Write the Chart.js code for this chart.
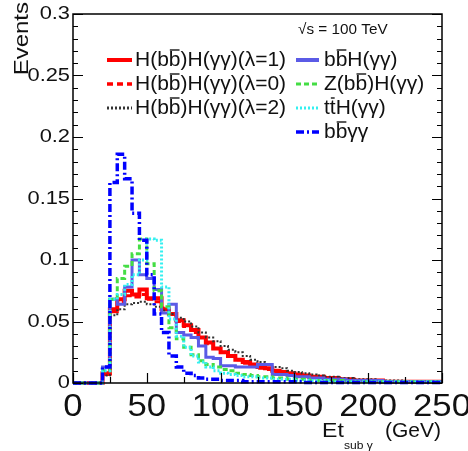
<!DOCTYPE html>
<html>
<head>
<meta charset="utf-8">
<script src="https://cdn.jsdelivr.net/npm/chart.js@4.4.1/dist/chart.umd.min.js"></script>
<style>
  html, body { margin: 0; padding: 0; background: #fff; }
  #wrap { width: 468px; height: 451px; }
</style>
</head>
<body>
<div id="wrap"><canvas id="c" width="468" height="451"></canvas></div>
<script>
// bin edges in GeV (5 GeV bins)
const binEdges = [0, 5, 10, 15, 20, 25, 30, 35, 40, 45, 50, 55, 60, 65, 70, 75, 80, 85, 90, 95,
  100, 105, 110, 115, 120, 125, 130, 135, 140, 145, 150, 155, 160, 165, 170, 175, 180, 185, 190, 195,
  200, 205, 210, 215, 220, 225, 230, 235, 240, 245, 250];

// bin contents
const hhLambda1 = [0, 0, 0, 0, 0.008, 0.060, 0.068, 0.075, 0.072, 0.076,
  0.069, 0.069, 0.060, 0.056, 0.051, 0.047, 0.043, 0.037, 0.033, 0.028,
  0.025, 0.022, 0.019, 0.017, 0.015, 0.013, 0.012, 0.010, 0.009, 0.008,
  0.007, 0.006, 0.005, 0.005, 0.004, 0.004, 0.003, 0.003, 0.002, 0.002,
  0.002, 0.002, 0.001, 0.001, 0.001, 0.001, 0.001, 0.001, 0.001, 0.001];
const hhLambda0 = [0, 0, 0, 0, 0.007, 0.058, 0.066, 0.071, 0.070, 0.072,
  0.068, 0.066, 0.061, 0.056, 0.050, 0.046, 0.041, 0.037, 0.032, 0.028,
  0.025, 0.022, 0.019, 0.016, 0.014, 0.012, 0.011, 0.009, 0.008, 0.007,
  0.006, 0.005, 0.005, 0.004, 0.004, 0.003, 0.003, 0.002, 0.002, 0.002,
  0.002, 0.001, 0.001, 0.001, 0.001, 0.001, 0.001, 0.001, 0.0005, 0.0005];
const hhLambda2 = [0, 0, 0, 0, 0.006, 0.055, 0.060, 0.064, 0.065, 0.066,
  0.064, 0.062, 0.059, 0.056, 0.053, 0.050, 0.046, 0.041, 0.037, 0.034,
  0.030, 0.027, 0.025, 0.022, 0.019, 0.017, 0.015, 0.013, 0.012, 0.010,
  0.009, 0.008, 0.007, 0.006, 0.005, 0.005, 0.004, 0.004, 0.003, 0.003,
  0.003, 0.002, 0.002, 0.002, 0.002, 0.001, 0.001, 0.001, 0.001, 0.001];
const bbH = [0, 0, 0, 0, 0.013, 0.068, 0.064, 0.078, 0.100, 0.088,
  0.085, 0.076, 0.057, 0.064, 0.041, 0.039, 0.037, 0.030, 0.021, 0.020,
  0.014, 0.014, 0.013, 0.013, 0.013, 0.015, 0.015, 0.007, 0.007, 0.006,
  0.005, 0.005, 0.004, 0.004, 0.003, 0.003, 0.003, 0.002, 0.002, 0.002,
  0.002, 0.002, 0.001, 0.001, 0.001, 0.001, 0.001, 0.001, 0.001, 0.001];
const zH = [0, 0, 0, 0, 0.010, 0.068, 0.085, 0.095, 0.105, 0.117,
  0.097, 0.075, 0.062, 0.045, 0.036, 0.029, 0.023, 0.018, 0.015, 0.013,
  0.011, 0.010, 0.008, 0.007, 0.006, 0.005, 0.005, 0.004, 0.004, 0.003,
  0.003, 0.003, 0.002, 0.002, 0.002, 0.002, 0.002, 0.001, 0.001, 0.001,
  0.001, 0.001, 0.001, 0.001, 0.001, 0.001, 0.001, 0.001, 0.001, 0.001];
const ttH = [0, 0, 0, 0, 0.010, 0.068, 0.072, 0.080, 0.088, 0.100,
  0.117, 0.116, 0.078, 0.052, 0.038, 0.029, 0.022, 0.017, 0.013, 0.010,
  0.008, 0.007, 0.006, 0.005, 0.005, 0.004, 0.004, 0.003, 0.003, 0.003,
  0.002, 0.002, 0.002, 0.002, 0.002, 0.001, 0.001, 0.001, 0.001, 0.001,
  0.001, 0.001, 0.001, 0.001, 0.001, 0.001, 0.001, 0.001, 0.001, 0.001];
const bbgg = [0, 0, 0, 0, 0.013, 0.163, 0.186, 0.166, 0.138, 0.116,
  0.088, 0.056, 0.041, 0.022, 0.013, 0.008, 0.006, 0.004, 0.003, 0.003,
  0.002, 0.002, 0.002, 0.001, 0.001, 0.001, 0.001, 0.001, 0.001, 0.001,
  0.001, 0.0005, 0.0005, 0.0005, 0.0005, 0.0005, 0.0005, 0.0005, 0.0005, 0.0005,
  0.0005, 0.0005, 0.0005, 0.0005, 0.0005, 0.0005, 0.0005, 0.0005, 0.0005, 0.0005];

// axis ticks
const yTicks = [0, 0.05, 0.1, 0.15, 0.2, 0.25, 0.3];
const yTickLabels = ['0', '0.05', '0.1', '0.15', '0.2', '0.25', '0.3'];
const xTicks = [0, 50, 100, 150, 200, 250];
const xTickLabels = ['0', '50', '100', '150', '200', '250'];

const FONT = '"Liberation Sans", Arial, Helvetica, sans-serif';

// histogram -> points at left bin edges (stepped line)
function toSteps(vals) {
  const pts = vals.map((v, i) => ({ x: binEdges[i], y: v }));
  pts.push({ x: binEdges[binEdges.length - 1], y: vals[vals.length - 1] });
  return pts;
}

function histo(label, vals, color, width, dash, order) {
  return {
    label: label,
    data: toSteps(vals),
    borderColor: color,
    borderWidth: width,
    borderDash: dash,
    stepped: 'before',
    pointRadius: 0,
    fill: false,
    clip: 4,
    order: order
  };
}

function stretchText(ctx, str, x, y, size, align, sx) {
  ctx.save();
  ctx.font = size + 'px ' + FONT;
  ctx.translate(x, y);
  ctx.scale(sx, 1);
  ctx.textAlign = align;
  ctx.fillText(str, 0, 0);
  ctx.restore();
}

// text made of pieces, some with an overline (b-bar, t-bar)
function richText(ctx, parts, x, y, size, sx) {
  ctx.save();
  ctx.font = size + 'px ' + FONT;
  ctx.textBaseline = 'middle';
  ctx.textAlign = 'left';
  let cx = x;
  parts.forEach(p => {
    const w = ctx.measureText(p.t).width * sx;
    ctx.save();
    ctx.translate(cx, y);
    ctx.scale(sx, 1);
    ctx.fillText(p.t, 0, 0);
    ctx.restore();
    if (p.bar) {
      ctx.beginPath();
      ctx.lineWidth = 1.3;
      ctx.moveTo(cx + 1, y - size * 0.5);
      ctx.lineTo(cx + w - 1, y - size * 0.5);
      ctx.stroke();
    }
    cx += w;
  });
  ctx.restore();
}

const legendItems = [
  { col: 0, row: 0, color: '#ff0000', width: 4, dash: [], parts: [{ t: 'H(b' }, { t: 'b', bar: true }, { t: ')H(γγ)(λ=1)' }] },
  { col: 0, row: 1, color: '#ff0000', width: 3.5, dash: [6, 4], parts: [{ t: 'H(b' }, { t: 'b', bar: true }, { t: ')H(γγ)(λ=0)' }] },
  { col: 0, row: 2, color: '#333333', width: 3, dash: [2, 2], parts: [{ t: 'H(b' }, { t: 'b', bar: true }, { t: ')H(γγ)(λ=2)' }] },
  { col: 1, row: 0, color: '#5b5be6', width: 4, dash: [], parts: [{ t: 'b' }, { t: 'b', bar: true }, { t: 'H(γγ)' }] },
  { col: 1, row: 1, color: '#44dd44', width: 3, dash: [5, 3], parts: [{ t: 'Z(b' }, { t: 'b', bar: true }, { t: ')H(γγ)' }] },
  { col: 1, row: 2, color: '#33f0f0', width: 3, dash: [2, 2], parts: [{ t: 't' }, { t: 't', bar: true }, { t: 'H(γγ)' }] },
  { col: 1, row: 3, color: '#0000ff', width: 3.5, dash: [8, 3, 2, 3], parts: [{ t: 'b' }, { t: 'b', bar: true }, { t: 'γγ' }] }
];

const rootFrame = {
  id: 'rootFrame',
  afterDraw(chart) {
    const ctx = chart.ctx;
    const xs = chart.scales.x, ys = chart.scales.y;
    const L = xs.left, R = xs.right, T = ys.top, B = ys.bottom;

    ctx.save();
    ctx.strokeStyle = '#000';
    ctx.fillStyle = '#111';
    ctx.lineWidth = 1.5;
    ctx.strokeRect(L, T, R - L, B - T);

    // y ticks, left and right
    ctx.lineWidth = 1.2;
    for (let v = 0; v <= 0.3001; v += 0.01) {
      const y = Math.round(ys.getPixelForValue(v)) + 0.5;
      const major = Math.abs(v / 0.05 - Math.round(v / 0.05)) < 1e-6;
      const len = major ? 10 : 5;
      ctx.beginPath();
      ctx.moveTo(L, y); ctx.lineTo(L + len, y);
      ctx.moveTo(R, y); ctx.lineTo(R - len, y);
      ctx.stroke();
    }
    // x ticks
    for (let v = 0; v <= 250; v += 25) {
      const x = Math.round(xs.getPixelForValue(v)) + 0.5;
      const len = v % 50 === 0 ? 10 : 6;
      ctx.beginPath();
      ctx.moveTo(x, B); ctx.lineTo(x, B - len);
      ctx.stroke();
    }

    // tick labels
    ctx.textBaseline = 'middle';
    yTicks.forEach((v, i) => {
      stretchText(ctx, yTickLabels[i], L - 3, ys.getPixelForValue(v), 19, 'right', 1.15);
    });
    xTicks.forEach((v, i) => {
      stretchText(ctx, xTickLabels[i], xs.getPixelForValue(v), B + 24, 31, 'center', 1.12);
    });

    // axis titles
    ctx.textBaseline = 'alphabetic';
    stretchText(ctx, 'Et', 322, 437, 21, 'left', 1.1);
    stretchText(ctx, 'sub γ', 344, 449, 11, 'left', 1.1);
    stretchText(ctx, '(GeV)', 385, 437, 20, 'left', 1.05);

    ctx.save();
    ctx.translate(28, 2);
    ctx.rotate(-Math.PI / 2);
    stretchText(ctx, 'Events', 0, 0, 20, 'right', 1.2);
    ctx.restore();

    // sqrt(s) label
    ctx.textBaseline = 'middle';
    stretchText(ctx, '√s = 100 TeV', 298, 30, 15, 'left', 1.02);

    // legend
    legendItems.forEach(it => {
      const x0 = it.col === 0 ? 107 : 296;
      const x1 = it.col === 0 ? 132 : 319;
      const tx = it.col === 0 ? 135 : 324;
      const y = 60 + it.row * 24;
      ctx.save();
      ctx.strokeStyle = it.color;
      ctx.lineWidth = it.width;
      ctx.setLineDash(it.dash);
      ctx.beginPath();
      ctx.moveTo(x0, y); ctx.lineTo(x1, y);
      ctx.stroke();
      ctx.restore();
      richText(ctx, it.parts, tx, y, 20, 1.05);
    });
    ctx.restore();
  }
};

new Chart(document.getElementById('c'), {
  type: 'line',
  data: {
    datasets: [
      histo('bbγγ', bbgg, '#0000ff', 3.5, [8, 3, 2, 3], 0),
      histo('ttH(γγ)', ttH, '#33f0f0', 3, [2, 2], 1),
      histo('Z(bb)H(γγ)', zH, '#44dd44', 3, [5, 3], 2),
      histo('bbH(γγ)', bbH, '#5b5be6', 3, [], 3),
      histo('λ=2', hhLambda2, '#333333', 2, [2, 2], 4),
      histo('λ=0', hhLambda0, '#ff0000', 3, [6, 4], 5),
      histo('λ=1', hhLambda1, '#ff0000', 4, [], 6)
    ]
  },
  options: {
    responsive: false,
    animation: false,
    layout: { padding: { left: 73, right: 26, top: 14, bottom: 68 } },
    plugins: { legend: { display: false }, tooltip: { enabled: false } },
    scales: {
      x: { type: 'linear', min: 0, max: 250, display: false },
      y: { type: 'linear', min: 0, max: 0.3, display: false }
    }
  },
  plugins: [rootFrame]
});
</script>
</body>
</html>
